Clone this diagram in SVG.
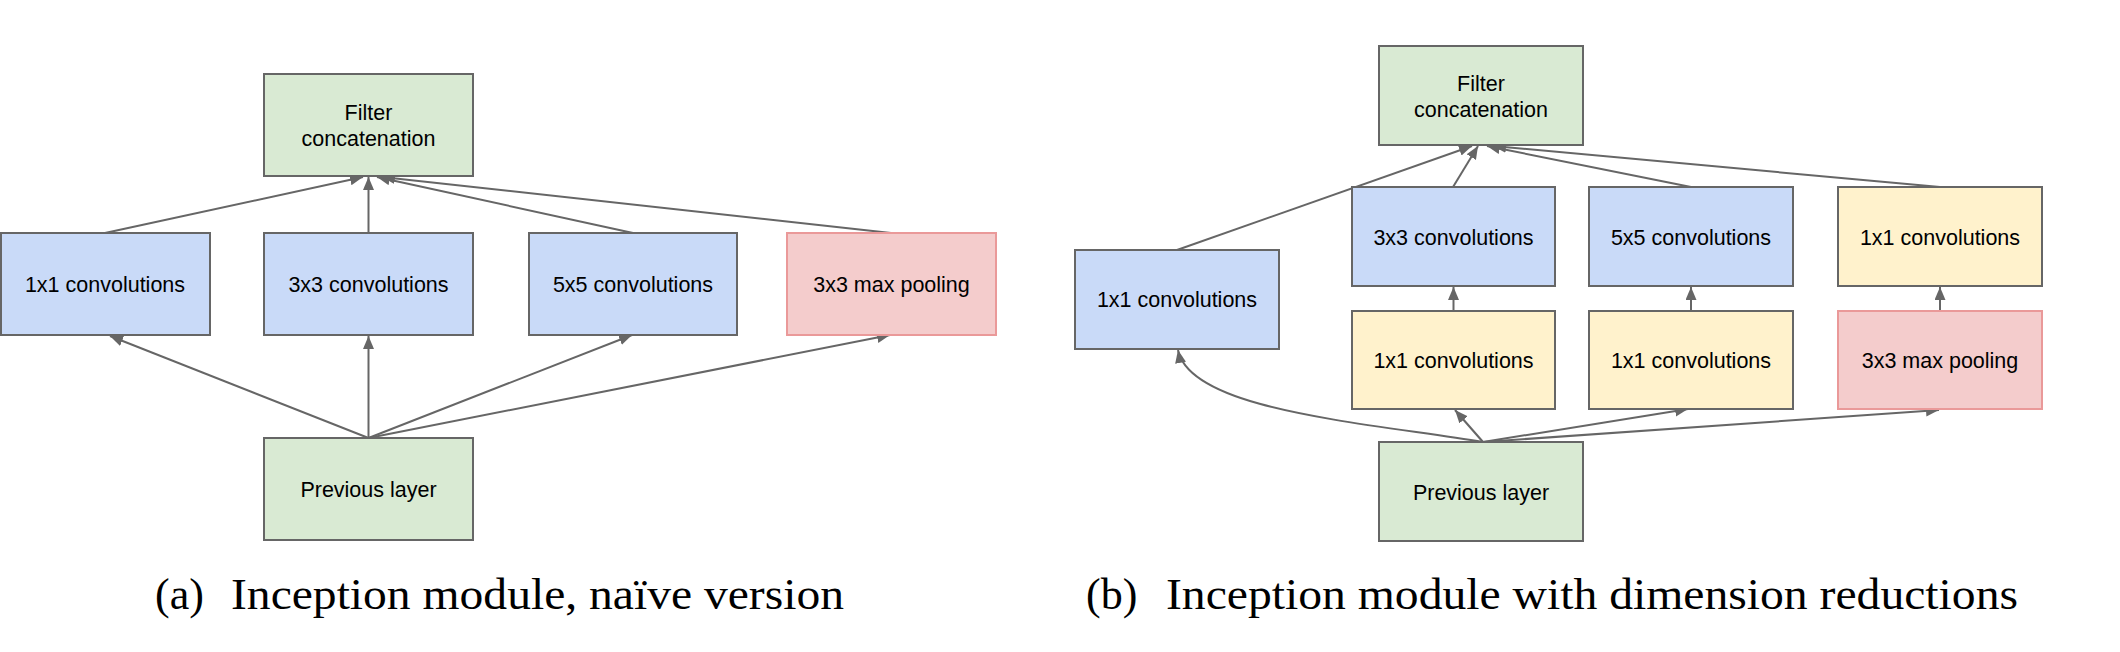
<svg xmlns="http://www.w3.org/2000/svg" width="2120" height="652" viewBox="0 0 2120 652">
<defs>
<style>
.box{stroke:#666666;stroke-width:2}
.g{fill:#d9ead3}
.b{fill:#c9daf8}
.y{fill:#fff2cc}
.r{fill:#f4cccc;stroke:#ea9999;stroke-width:2}
.t{font-family:"Liberation Sans",Arial,sans-serif;font-size:21.5px;fill:#000;text-anchor:middle}
.cap{font-family:"Liberation Serif","Times New Roman",serif;font-size:44px;fill:#000}
.c{fill:none;stroke:#666666;stroke-width:2;marker-end:url(#ah)}
</style>
<marker id="ah" markerUnits="userSpaceOnUse" markerWidth="14" markerHeight="12" refX="13" refY="5.5" orient="auto">
<path d="M0,0 L13,5.5 L0,11 z" fill="#666666"/>
</marker>
</defs>
<rect width="2120" height="652" fill="#ffffff"/>

<g id="connectors">
<!-- left diagram -->
<line class="c" x1="368.5" y1="438" x2="110" y2="336"/>
<line class="c" x1="368.5" y1="438" x2="368.5" y2="336"/>
<line class="c" x1="368.5" y1="438" x2="632" y2="335"/>
<line class="c" x1="368.5" y1="438" x2="890" y2="335"/>
<line class="c" x1="105" y1="233" x2="363" y2="177"/>
<line class="c" x1="368.5" y1="233" x2="368.5" y2="177"/>
<line class="c" x1="633" y1="233" x2="377" y2="177"/>
<line class="c" x1="891" y1="233" x2="382" y2="177"/>
<!-- right diagram -->
<path class="c" d="M1483,442 C1360,422 1190,410 1178,350"/>
<line class="c" x1="1483" y1="442" x2="1455" y2="410"/>
<line class="c" x1="1483" y1="442" x2="1688" y2="409"/>
<line class="c" x1="1483" y1="442" x2="1939" y2="410"/>
<line class="c" x1="1453.5" y1="311" x2="1453.5" y2="287"/>
<line class="c" x1="1691" y1="311" x2="1691" y2="287"/>
<line class="c" x1="1940" y1="311" x2="1940" y2="287"/>
<line class="c" x1="1177" y1="250" x2="1472" y2="146"/>
<line class="c" x1="1453" y1="187" x2="1478" y2="146"/>
<line class="c" x1="1691" y1="187" x2="1487" y2="146"/>
<line class="c" x1="1940" y1="187" x2="1493" y2="146"/>
</g>

<!-- left diagram nodes -->
<g id="a-filter"><rect class="box g" x="264" y="74" width="209" height="102"/><text class="t" x="368.5" y="120">Filter</text><text class="t" x="368.5" y="146">concatenation</text></g>
<g id="a-conv1"><rect class="box b" x="1" y="233" width="209" height="102"/><text class="t" x="105" y="292">1x1 convolutions</text></g>
<g id="a-conv3"><rect class="box b" x="264" y="233" width="209" height="102"/><text class="t" x="368.5" y="292">3x3 convolutions</text></g>
<g id="a-conv5"><rect class="box b" x="529" y="233" width="208" height="102"/><text class="t" x="633" y="292">5x5 convolutions</text></g>
<g id="a-pool"><rect class="r" x="787" y="233" width="209" height="102"/><text class="t" x="891.5" y="292">3x3 max pooling</text></g>
<g id="a-prev"><rect class="box g" x="264" y="438" width="209" height="102"/><text class="t" x="368.5" y="497">Previous layer</text></g>

<!-- right diagram nodes -->
<g id="b-filter"><rect class="box g" x="1379" y="46" width="204" height="99"/><text class="t" x="1481" y="90.5">Filter</text><text class="t" x="1481" y="116.5">concatenation</text></g>
<g id="b-conv1"><rect class="box b" x="1075" y="250" width="204" height="99"/><text class="t" x="1177" y="307">1x1 convolutions</text></g>
<g id="b-conv3"><rect class="box b" x="1352" y="187" width="203" height="99"/><text class="t" x="1453.5" y="245">3x3 convolutions</text></g>
<g id="b-conv5"><rect class="box b" x="1589" y="187" width="204" height="99"/><text class="t" x="1691" y="245">5x5 convolutions</text></g>
<g id="b-poolproj"><rect class="box y" x="1838" y="187" width="204" height="99"/><text class="t" x="1940" y="245">1x1 convolutions</text></g>
<g id="b-red3"><rect class="box y" x="1352" y="311" width="203" height="98"/><text class="t" x="1453.5" y="368">1x1 convolutions</text></g>
<g id="b-red5"><rect class="box y" x="1589" y="311" width="204" height="98"/><text class="t" x="1691" y="368">1x1 convolutions</text></g>
<g id="b-pool"><rect class="r" x="1838" y="311" width="204" height="98"/><text class="t" x="1940" y="368">3x3 max pooling</text></g>
<g id="b-prev"><rect class="box g" x="1379" y="442" width="204" height="99"/><text class="t" x="1481" y="500">Previous layer</text></g>

<!-- captions -->
<text class="cap" y="609"><tspan x="155">(a)</tspan><tspan x="231" textLength="613" lengthAdjust="spacingAndGlyphs">Inception module, naïve version</tspan></text>
<text class="cap" y="609"><tspan x="1086">(b)</tspan><tspan x="1166" textLength="852" lengthAdjust="spacingAndGlyphs">Inception module with dimension reductions</tspan></text>
</svg>
